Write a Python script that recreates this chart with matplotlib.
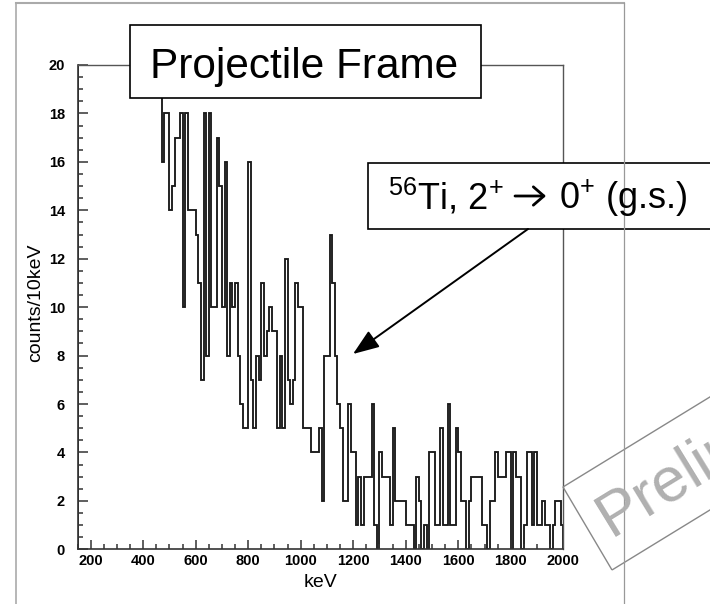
import numpy as np
import matplotlib.pyplot as plt
from matplotlib.patches import Rectangle, Polygon
from matplotlib.ticker import MultipleLocator

plt.rcParams["font.family"] = ["Liberation Sans", "DejaVu Sans"]
plt.rcParams["mathtext.fontset"] = "custom"
plt.rcParams["mathtext.rm"] = "Liberation Sans"

# gamma spectrum, 10 keV bins starting at 470 keV
# everything below 470 keV is off scale (>20 counts), kept as one overflow bin
overflow_lo = 150
overflow_val = 30
bin_start = 470
bin_width = 10
counts = [
    16, 18, 18, 14, 15, 17, 17, 18, 10, 18, 14, 14, 14,   # 470-590
    13, 11, 7, 18, 8, 18, 10, 10, 17, 15,                 # 600-690
    10, 16, 8, 11, 10, 11, 8, 6, 5, 5,                    # 700-790
    16, 7, 5, 8, 7, 11, 8, 9, 10, 9,                      # 800-890
    9, 5, 8, 5, 12, 7, 6, 7, 11, 10,                      # 900-990
    10, 5, 5, 5, 4, 4, 4, 5, 2, 8,                        # 1000-1090
    8, 13, 11, 8, 6, 5, 2, 2, 6, 4,                       # 1100-1190
    4, 1, 3, 1, 3, 3, 3, 6, 1, 0,                         # 1200-1290
    4, 3, 3, 3, 1, 5, 2, 2, 2, 2,                         # 1300-1390
    1, 1, 1, 0, 3, 2, 0, 1, 0, 4,                         # 1400-1490
    4, 1, 1, 5, 1, 1, 6, 1, 1, 5,                         # 1500-1590
    4, 2, 2, 0, 2, 3, 3, 3, 3, 1,                         # 1600-1690
    1, 0, 2, 2, 4, 3, 3, 3, 4, 4,                         # 1700-1790
    0, 4, 3, 3, 0, 1, 4, 4, 1, 4,                         # 1800-1890
    1, 1, 2, 1, 1, 0, 1, 2, 2, 1,                         # 1900-1990
]

edges = np.concatenate([[overflow_lo], bin_start + bin_width * np.arange(len(counts) + 1)])
values = [overflow_val] + counts

W, H = 710, 604
fig = plt.figure(figsize=(W / 100, H / 100), dpi=100)
ax = fig.add_axes([77.5 / W, 1 - 549.3 / H, (563.3 - 77.5) / W, (549.3 - 65) / H])
ax.stairs(values, edges, color="#1a1a1a", lw=1.35)
ax.set_xlim(150, 2000)
ax.set_ylim(0, 20)

ax.set_xticks(np.arange(200, 2001, 200))
ax.set_yticks(np.arange(0, 21, 2))
ax.xaxis.set_minor_locator(MultipleLocator(50))
ax.yaxis.set_minor_locator(MultipleLocator(0.5))
ax.tick_params(which="both", direction="in", top=False, right=False,
               width=1.1, color="#333333", labelsize=10.5)
ax.tick_params(axis="x", which="major", length=6.6, pad=3.5)
ax.tick_params(axis="x", which="minor", length=3.3)
ax.tick_params(axis="y", which="major", length=7.0, pad=9)
ax.tick_params(axis="y", which="minor", length=3.5)
plt.setp(ax.get_xticklabels() + ax.get_yticklabels(), fontweight="bold")
for side in ["left", "bottom"]:
    ax.spines[side].set_color("#333333")
    ax.spines[side].set_linewidth(1.2)
for side in ["top", "right"]:
    ax.spines[side].set_color("#555555")
    ax.spines[side].set_linewidth(1.0)

ax.set_xlabel("keV", fontsize=14)
ax.set_ylabel("counts/10keV", fontsize=14)
ax.xaxis.set_label_coords(0.5, -0.05)
ax.yaxis.set_label_coords(-0.069, 0.509)

# overlay in pixel coordinates for the slide decorations
ov = fig.add_axes([0, 0, 1, 1])
ov.set_xlim(0, W)
ov.set_ylim(H, 0)
ov.axis("off")

ov.plot([16, 16], [3, H], color="#aaaaaa", lw=1.2)
ov.plot([16, 624], [3.3, 3.3], color="#aaaaaa", lw=1.5)
ov.plot([624, 624], [3, H], color="#999999", lw=0.9)

ov.add_patch(Rectangle((130, 25), 351, 73, facecolor="white", edgecolor="black", lw=1.2))
ov.text(304.5, 78, "Projectile Frame", fontsize=30.5, ha="center", va="baseline")

ov.add_patch(Rectangle((368, 163), 400, 66, facecolor="white", edgecolor="black", lw=1.2))
ov.text(388, 209, r"$\mathregular{^{56}}$Ti, 2$\mathregular{^{+}}$",
        fontsize=26, ha="left", va="baseline")
ov.annotate("", xy=(546, 196), xytext=(515, 196),
            arrowprops=dict(arrowstyle="->,head_length=0.38,head_width=0.33",
                            mutation_scale=20, lw=2.0, color="black",
                            shrinkA=0, shrinkB=0))
ov.text(559, 209, r"0$\mathregular{^{+}}$ (g.s.)",
        fontsize=26, ha="left", va="baseline")
ov.annotate("", xy=(353, 354), xytext=(528, 229),
            arrowprops=dict(arrowstyle="-|>,head_length=0.8,head_width=0.3",
                            mutation_scale=20, lw=1.4, color="black",
                            shrinkA=0, shrinkB=0))

# "Preliminary" stamp, runs off the right edge as in the slide
ang = 31.5
d = np.array([np.cos(np.radians(ang)), -np.sin(np.radians(ang))])
p0 = np.array([612, 570])
p1 = np.array([563, 487])
ov.add_patch(Polygon([p0, p0 + 400 * d, p1 + 400 * d, p1], closed=True,
                     facecolor="none", edgecolor="#888888", lw=1.0))
ov.text(611, 537, "Preliminary", fontsize=45, color="#b0b0b0", rotation=ang,
        rotation_mode="anchor", ha="left", va="baseline")

fig.savefig("out.png", dpi=100)
